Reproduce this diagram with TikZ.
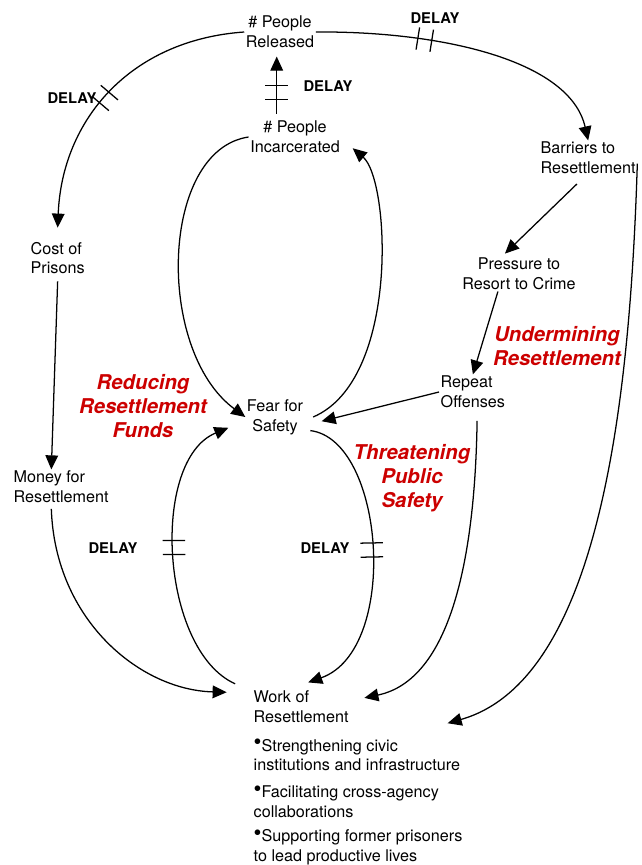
\documentclass[tikz,border=0pt]{standalone}
\usepackage{fontspec}
\setmainfont{TeX Gyre Heros}
\usepackage{xcolor}
\usetikzlibrary{arrows.meta}
\usetikzlibrary{decorations.markings}

\definecolor{loopred}{RGB}{204,0,0}
\newcommand{\dotmark}{\raisebox{0.15ex}{\fontsize{16}{16}\selectfont\textbullet}}

\tikzset{
  var/.style={font=\fontsize{11.5}{14}\selectfont, inner sep=1pt},
  loopname/.style={align=center, text=loopred, font=\fontsize{14.5}{17}\selectfont\bfseries\itshape},
  delaytext/.style={font=\fontsize{10.5}{12}\selectfont\bfseries},
  link/.style={-{Triangle[length=10pt,width=9pt]}, line width=0.9pt},
  delaymark/.style={postaction={decorate},
    decoration={markings, mark=at position #1 with {
      \draw[arrows=-, line width=0.9pt] (-5pt,-8pt) -- (-5pt,8pt) (5pt,-8pt) -- (5pt,8pt);}}}
}

\begin{document}
\begin{tikzpicture}[x=0.025cm, y=-0.025cm]
            \useasboundingbox (0,0) rectangle (642,865);

            \node[var, align=center] (rel) at (280,32) {\# People\\Released};
            \node[var, align=center] (inc) at (295,137) {\# People\\Incarcerated};
            \node[var, align=left, anchor=west] (bar) at (539,158) {Barriers to\\Resettlement};
            \node[var, align=left, anchor=west] (cost) at (29,258) {Cost of\\Prisons};
            \node[var, align=center] (press) at (519,274) {Pressure to\\Resort to Crime};
            \node[var, align=left, anchor=west] (rep) at (439,392) {Repeat\\Offenses};
            \node[var, align=center] (fear) at (275,417) {Fear for\\Safety};
            \node[var, align=left, anchor=west] (money) at (12,487) {Money for\\Resettlement};
            \node[var, align=left, anchor=west] (work) at (252,707) {Work of\\Resettlement};

            \node[var, align=left, anchor=west] (item1) at (252,755) {\dotmark Strengthening civic\\institutions and infrastructure};
            \node[var, align=left, anchor=west] (item2) at (252,802) {\dotmark Facilitating cross-agency\\collaborations};
            \node[var, align=left, anchor=west] (item3) at (252,847) {\dotmark Supporting former prisoners\\to lead productive lives};

            \node[loopname] (reduce) at (143,406) {Reducing\\Resettlement\\Funds};
            \node[loopname] (undermine) at (557,346) {Undermining\\Resettlement};
            \node[loopname] (threat) at (412,478) {Threatening\\Public\\Safety};

            \node[delaytext] (dl1) at (435,18) {DELAY};
            \node[delaytext] (dl2) at (328,86) {DELAY};
            \node[delaytext] (dl3) at (72,98) {DELAY};
            \node[delaytext] (dl4) at (113,548) {DELAY};
            \node[delaytext] (dl5) at (325,548) {DELAY};

            % released side
            \draw[link, delaymark=0.35] (rel.east) .. controls (440,31) and (570,60) .. (bar.north);
            \draw[link, delaymark=0.53] (rel.west) .. controls (130,40) and (62,120) .. ([yshift=9pt]cost.north);
            \draw[link, delaymark=0.37] ([xshift=-13pt,yshift=4pt]inc.north) -- ([xshift=-13pt,yshift=-5pt]inc.north |- rel.south);

            % inner loop
            \draw[link] (inc.west) .. controls (160,150) and (155,350) .. (fear.west);
            \draw[link] ([xshift=6pt]fear.east) .. controls (400,380) and (390,180) .. ([shift={(8pt,-8pt)}]inc.east);

            % right side
            \draw[link] ([shift={(-8pt,-6pt)}]bar.south) -- ([shift={(-10pt,2pt)}]press.north);
            \draw[link] ([yshift=-4pt]bar.east) .. controls (630,400) and (600,680) .. ([shift={(-10pt,10pt)}]item1.north east);
            \draw[link] ([xshift=-15pt]press.south) -- (rep.north);
            \draw[link] (rep.west) -- ([shift={(12pt,-3pt)}]fear.east);
            \draw[link] ([shift={(3pt,-8pt)}]rep.south) .. controls (475,560) and (450,680) .. ([shift={(10pt,-6pt)}]work.north east);

            % lower loop
            \draw[link, delaymark=0.48] ([shift={(4pt,4pt)}]fear.south east) .. controls (385,440) and (400,650) .. ([shift={(5pt,5pt)}]work.north);
            \draw[link, delaymark=0.53] ([shift={(-12pt,4pt)}]work.north west) .. controls (160,650) and (150,460) .. ([shift={(-12pt,6pt)}]fear.south west);

            % left side
            \draw[link] ([yshift=-4pt]cost.south) -- ([xshift=-7pt]money.north);
            \draw[link] ([shift={(-7pt,-3pt)}]money.south) .. controls (55,620) and (140,690) .. ([shift={(-18pt,-2pt)}]work.north west);
\end{tikzpicture}
\end{document}
